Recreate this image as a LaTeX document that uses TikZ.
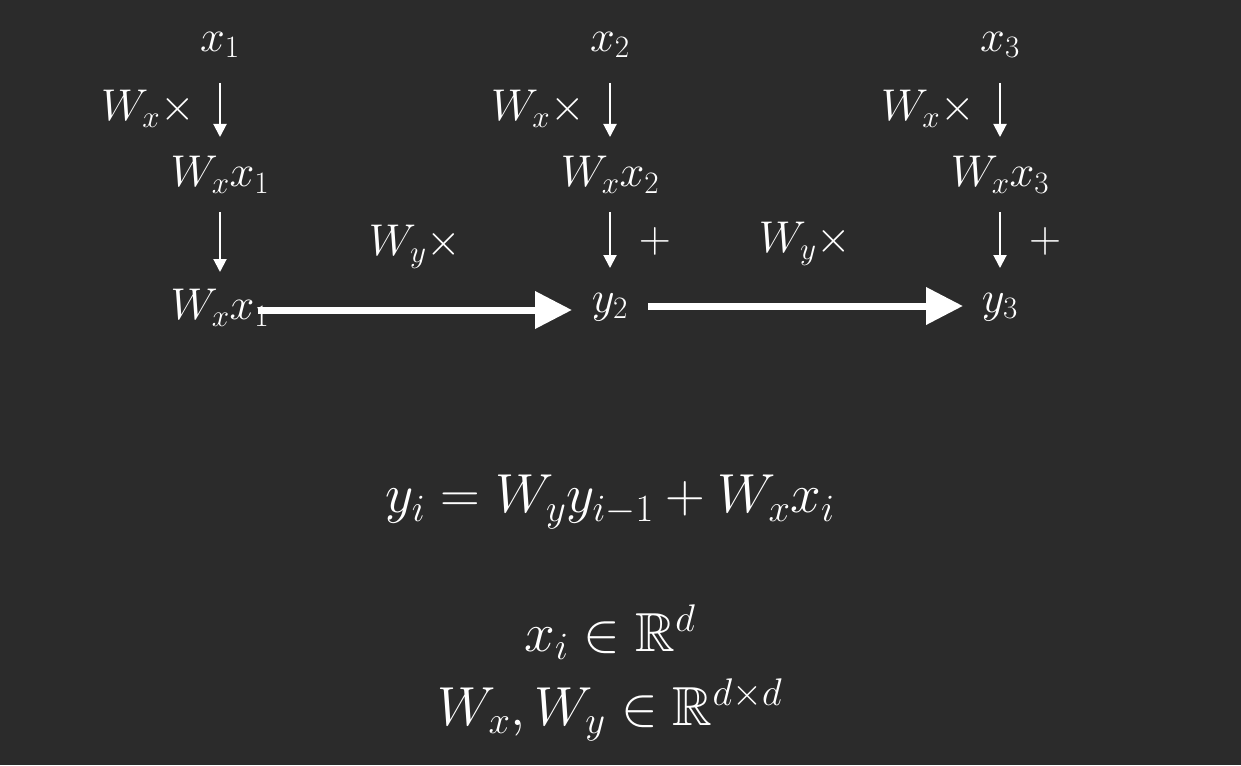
\RequirePackage{fix-cm}
\documentclass[tikz,border=0pt]{standalone}
\usepackage{amssymb}
\usetikzlibrary{arrows.meta}
\definecolor{bgc}{HTML}{2B2B2B}
\tikzset{
  lbl/.style={text=white, inner sep=0pt, font=\fontsize{44.5}{52}\selectfont},
  eqn/.style={text=white, inner sep=0pt, font=\fontsize{55}{66}\selectfont},
  thinarrow/.style={draw=white, line width=2pt, -{Triangle[length=13pt,width=13pt]}},
  thickarrow/.style={draw=white, line width=7pt, -{Triangle[length=37pt,width=36pt]}},
}
\begin{document}
\begin{tikzpicture}[x=1pt,y=-1pt]
\fill[bgc] (0,0) rectangle (1241,765);
% column 1
\node[lbl] (x1) at (220,45) {$x_1$};
\node[lbl] (w1) at (220,175) {$W_x x_1$};
\node[lbl] (b1) at (220,308) {$W_x x_1$};
\node[lbl] (m1) at (148,109) {$W_x\times$};
% column 2
\node[lbl] (x2) at (610,45) {$x_2$};
\node[lbl] (w2) at (610,175) {$W_x x_2$};
\node[lbl] (y2) at (610,307) {$y_2$};
\node[lbl] (m2) at (538,109) {$W_x\times$};
\node[lbl] (p2) at (655,241) {$+$};
\node[lbl] (r2) at (415,247) {$W_y\times$};
% column 3
\node[lbl] (x3) at (1000,45) {$x_3$};
\node[lbl] (w3) at (1000,175) {$W_x x_3$};
\node[lbl] (y3) at (1000,307) {$y_3$};
\node[lbl] (m3) at (928,109) {$W_x\times$};
\node[lbl] (p3) at (1045,241) {$+$};
\node[lbl] (r3) at (805,244) {$W_y\times$};
% thin arrows
\draw[thinarrow] ([yshift=-38pt]x1.center) -- ([yshift=38pt]w1.center);
\draw[thinarrow] ([yshift=-38pt]x2.center) -- ([yshift=38pt]w2.center);
\draw[thinarrow] ([yshift=-38pt]x3.center) -- ([yshift=38pt]w3.center);
\draw[thinarrow] ([yshift=-37pt]w1.center) -- ([yshift=36pt]b1.center);
\draw[thinarrow] ([yshift=-37pt]w2.center) -- ([yshift=39pt]y2.center);
\draw[thinarrow] ([yshift=-37pt]w3.center) -- ([yshift=39pt]y3.center);
% thick arrows
\draw[thickarrow] ([xshift=38pt,yshift=-2pt]b1.center) -- ([xshift=-38pt,yshift=-3pt]y2.center);
\draw[thickarrow] ([xshift=38pt,yshift=1pt]y2.center) -- ([xshift=-37pt,yshift=1pt]y3.center);
% equations
\node[eqn] (e1) at (610,502) {$y_i = W_y y_{i-1} + W_x x_i$};
\node[eqn] (e2) at (610,632) {$x_i \in \mathbb{R}^d$};
\node[eqn] (e3) at (610,710) {$W_x, W_y \in \mathbb{R}^{d\times d}$};
\end{tikzpicture}
\end{document}
